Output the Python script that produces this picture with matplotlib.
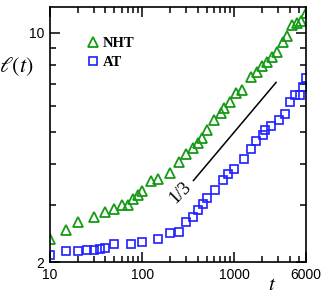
# Domain growth length l(t) for NHT and AT, log-log
import matplotlib
matplotlib.use("Agg")
import matplotlib.pyplot as plt
from matplotlib.ticker import NullFormatter

plt.rcParams["mathtext.fontset"] = "stix"

# -------------------------------
# Data
# -------------------------------
t_nht = [10, 15, 20, 30, 40, 50, 60, 70, 80, 90, 100, 125, 150, 200, 250,
         300, 360, 400, 450, 510, 600, 720, 780, 900, 1050, 1220, 1530,
         1780, 2000, 2280, 2590, 2880, 3340, 3770, 4280, 4840, 5340, 6000]
l_nht = [2.36, 2.50, 2.66, 2.74, 2.85, 2.90, 3.00, 3.00, 3.11, 3.20, 3.29,
         3.53, 3.58, 3.73, 4.04, 4.27, 4.45, 4.61, 4.77, 5.05, 5.42, 5.69,
         5.90, 6.15, 6.56, 6.70, 7.34, 7.60, 7.93, 8.15, 8.45, 8.75, 9.39,
         9.79, 10.57, 10.73, 10.88, 11.51]

t_at = [10, 15, 20, 25, 30, 35, 40, 50, 75, 100, 150, 200, 250, 300, 355,
        400, 455, 505, 620, 755, 855, 1000, 1260, 1520, 1720, 2050, 2180,
        2510, 3030, 3520, 4060, 4600, 5200, 5580, 6000]
l_at = [2.10, 2.16, 2.17, 2.18, 2.18, 2.20, 2.21, 2.27, 2.27, 2.30, 2.36,
        2.45, 2.48, 2.66, 2.74, 2.88, 3.02, 3.13, 3.33, 3.57, 3.71, 3.86,
        4.14, 4.44, 4.67, 4.88, 5.05, 5.20, 5.42, 5.65, 6.17, 6.46, 6.46,
        6.85, 7.27]

# guide line with slope 1/3
t_guide = [360, 2840]
l_guide = [3.55, 3.55 * (2840 / 360) ** (1 / 3)]

x_ticks = [10, 100, 1000, 6000]
x_labels = ["10", "100", "1000", "6000"]
y_ticks = [2, 10]
y_labels = ["2", "10"]

# -------------------------------
# Plot
# -------------------------------
fig = plt.figure(figsize=(3.32, 2.93), dpi=100)
ax = fig.add_axes([0.1506, 0.1048, 0.7711, 0.8713])

ax.plot(t_nht, l_nht, "^", ms=7.8, mfc="none", mec="#169a16", mew=1.3,
        ls="none", label="NHT")
ax.plot(t_at, l_at, "s", ms=6.4, mfc="none", mec="#1f1fff", mew=1.2,
        ls="none", label="AT")
ax.plot(t_guide, l_guide, color="black", lw=1.1)

ax.text(262, 3.27, "1/3", rotation=45, ha="center", va="center",
        fontsize=13, family="Liberation Serif")

ax.set_xscale("log")
ax.set_yscale("log")
ax.set_xlim(10, 6000)
ax.set_ylim(2, 12)

ax.set_xticks(x_ticks)
ax.set_xticklabels(x_labels)
ax.set_xticks([20, 30, 40, 50, 60, 70, 80, 90, 200, 300, 400, 500, 600,
               700, 800, 900, 2000, 3000, 4000, 5000], minor=True)
ax.xaxis.set_minor_formatter(NullFormatter())
ax.set_yticks(y_ticks)
ax.set_yticklabels(y_labels)
ax.set_yticks([3, 4, 5, 6, 7, 8, 9], minor=True)
ax.yaxis.set_minor_formatter(NullFormatter())

ax.tick_params(which="both", direction="in", top=True, right=True,
               labelsize=10, width=1.1)
ax.tick_params(which="major", length=7, pad=4)
ax.tick_params(which="minor", length=4)
for lab in ax.get_xticklabels() + ax.get_yticklabels():
    lab.set_family("Liberation Sans")
for s in ax.spines.values():
    s.set_linewidth(1.2)

ax.text(-0.13, 0.765, r"$\ell(t)$", transform=ax.transAxes, fontsize=16,
        ha="center", va="center")
ax.text(0.867, -0.085, r"$t$", transform=ax.transAxes, fontsize=15,
        ha="center", va="center")

ax.legend(loc="upper left", bbox_to_anchor=(0.12, 0.905), frameon=False,
          handlelength=0.9, handletextpad=0.2, borderaxespad=0,
          labelspacing=0.35, prop={"family": "Liberation Serif",
                                   "weight": "bold", "size": 10.5})

fig.savefig("out.png", dpi=100)
